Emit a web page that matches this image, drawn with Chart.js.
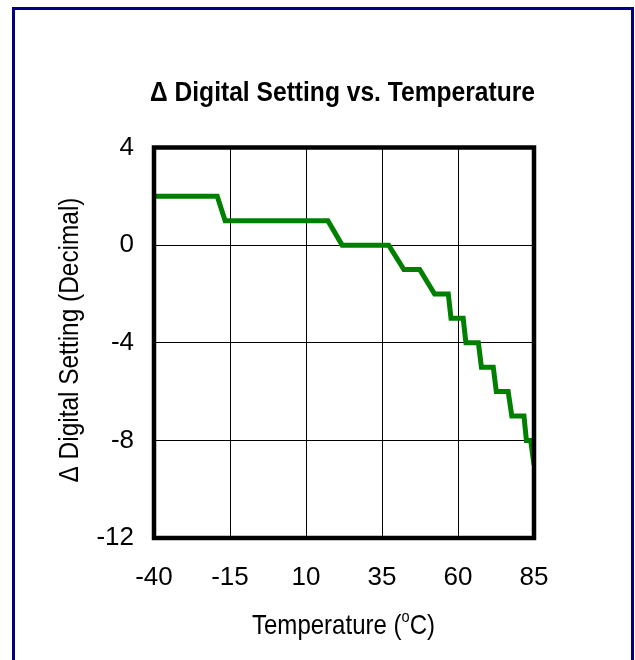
<!DOCTYPE html>
<html>
<head>
<meta charset="utf-8">
<script src="https://cdn.jsdelivr.net/npm/chart.js@4"></script>
<style>
  html, body { margin: 0; padding: 0; background: #fff; overflow: hidden; width: 635px; height: 660px; }
  #frame { position: absolute; left: 12px; top: 7px; width: 616px; height: 720px; border: 3px solid #000080; }
  #c { position: absolute; left: 0; top: 0; }
</style>
</head>
<body>
<div id="frame"></div>
<canvas id="c" width="635" height="660"></canvas>
<script>
// ---- data ----
const temperatures = [-40, -19.2, -16.6, 17.2, 21.9, 37.2, 42.2, 47.4, 52.3, 56.8, 57.7, 61.7, 62.6, 66.7, 67.7, 71.6, 72.6, 76.5, 77.7, 81.7, 82.5, 83.9, 85];
const deltaSetting = [2, 2, 1, 1, 0, 0, -1, -1, -2, -2, -3, -3, -4, -4, -5, -5, -6, -6, -7, -7, -8, -8, -9];
const xTicks = [-40, -15, 10, 35, 60, 85];
const yTicks = [4, 0, -4, -8, -12];
const chartTitle = "\u0394 Digital Setting vs. Temperature";
const yTitle = "\u0394 Digital Setting (Decimal)";
const xTitleParts = ["Temperature (", "o", "C)"];

const FONT = '"Liberation Sans", Arial, Helvetica, sans-serif';

const points = temperatures.map((t, i) => ({ x: t, y: deltaSetting[i] }));

function drawScaled(ctx, text, font, cx, baseline, targetW) {
  ctx.save();
  ctx.font = font;
  const w = ctx.measureText(text).width;
  const s = targetW / w;
  ctx.translate(cx, baseline);
  ctx.scale(s, 1);
  ctx.textAlign = 'center';
  ctx.textBaseline = 'alphabetic';
  ctx.fillStyle = '#000';
  ctx.fillText(text, 0, 0);
  ctx.restore();
}

const decor = {
  id: 'decor',
  afterDatasetsDraw(chart) {
    const ctx = chart.ctx;
    const a = chart.chartArea;
    ctx.save();
    ctx.strokeStyle = '#000';
    ctx.lineWidth = 4.5;
    ctx.strokeRect(a.left, a.top, a.right - a.left, a.bottom - a.top);
    ctx.restore();
  },
  afterDraw(chart) {
    const ctx = chart.ctx;
    drawScaled(ctx, chartTitle, 'bold 28px ' + FONT, 342.5, 101, 385);
    ctx.save();
    ctx.translate(78, 340);
    ctx.rotate(-Math.PI / 2);
    drawScaled(ctx, yTitle, '28px ' + FONT, 0, 0, 285);
    ctx.restore();
    ctx.save();
    const big = '28px ' + FONT, small = '17px ' + FONT;
    ctx.font = big;
    const w1 = ctx.measureText(xTitleParts[0]).width;
    const w3 = ctx.measureText(xTitleParts[2]).width;
    ctx.font = small;
    const w2 = ctx.measureText(xTitleParts[1]).width;
    const total = w1 + w2 + w3;
    const target = 183;
    const s = target / total;
    ctx.translate(343.5 - target / 2, 634);
    ctx.scale(s, 1);
    ctx.fillStyle = '#000';
    ctx.textAlign = 'left';
    ctx.textBaseline = 'alphabetic';
    ctx.font = big;
    ctx.fillText(xTitleParts[0], 0, 0);
    ctx.font = small;
    ctx.fillText(xTitleParts[1], w1, -12);
    ctx.font = big;
    ctx.fillText(xTitleParts[2], w1 + w2, 0);
    ctx.restore();
  }
};

new Chart(document.getElementById('c'), {
  type: 'scatter',
  data: {
    datasets: [{
      data: points,
      showLine: true,
      borderColor: '#008000',
      backgroundColor: '#008000',
      borderWidth: 5,
      pointRadius: 0,
      tension: 0
    }]
  },
  options: {
    responsive: false,
    animation: false,
    devicePixelRatio: 1,
    layout: { padding: { left: 0, right: 101, top: 147.5, bottom: 0 } },
    plugins: { legend: { display: false }, tooltip: { enabled: false }, title: { display: false } },
    scales: {
      x: {
        type: 'linear',
        min: -40, max: 85,
        afterFit(s) { s.height = 122; },
        afterBuildTicks(s) { s.ticks = xTicks.map(v => ({ value: v })); },
        grid: { color: '#000', lineWidth: 1, drawTicks: false },
        border: { display: false },
        ticks: { color: '#000', font: { family: FONT, size: 26 }, padding: 24, maxRotation: 0, autoSkip: false }
      },
      y: {
        type: 'linear',
        min: -12, max: 4,
        afterFit(s) { s.width = 154; },
        afterBuildTicks(s) { s.ticks = yTicks.map(v => ({ value: v })); },
        grid: { color: '#000', lineWidth: 1, drawTicks: false },
        border: { display: false },
        ticks: { color: '#000', font: { family: FONT, size: 26 }, padding: 20, autoSkip: false }
      }
    }
  },
  plugins: [decor]
});
</script>
</body>
</html>
